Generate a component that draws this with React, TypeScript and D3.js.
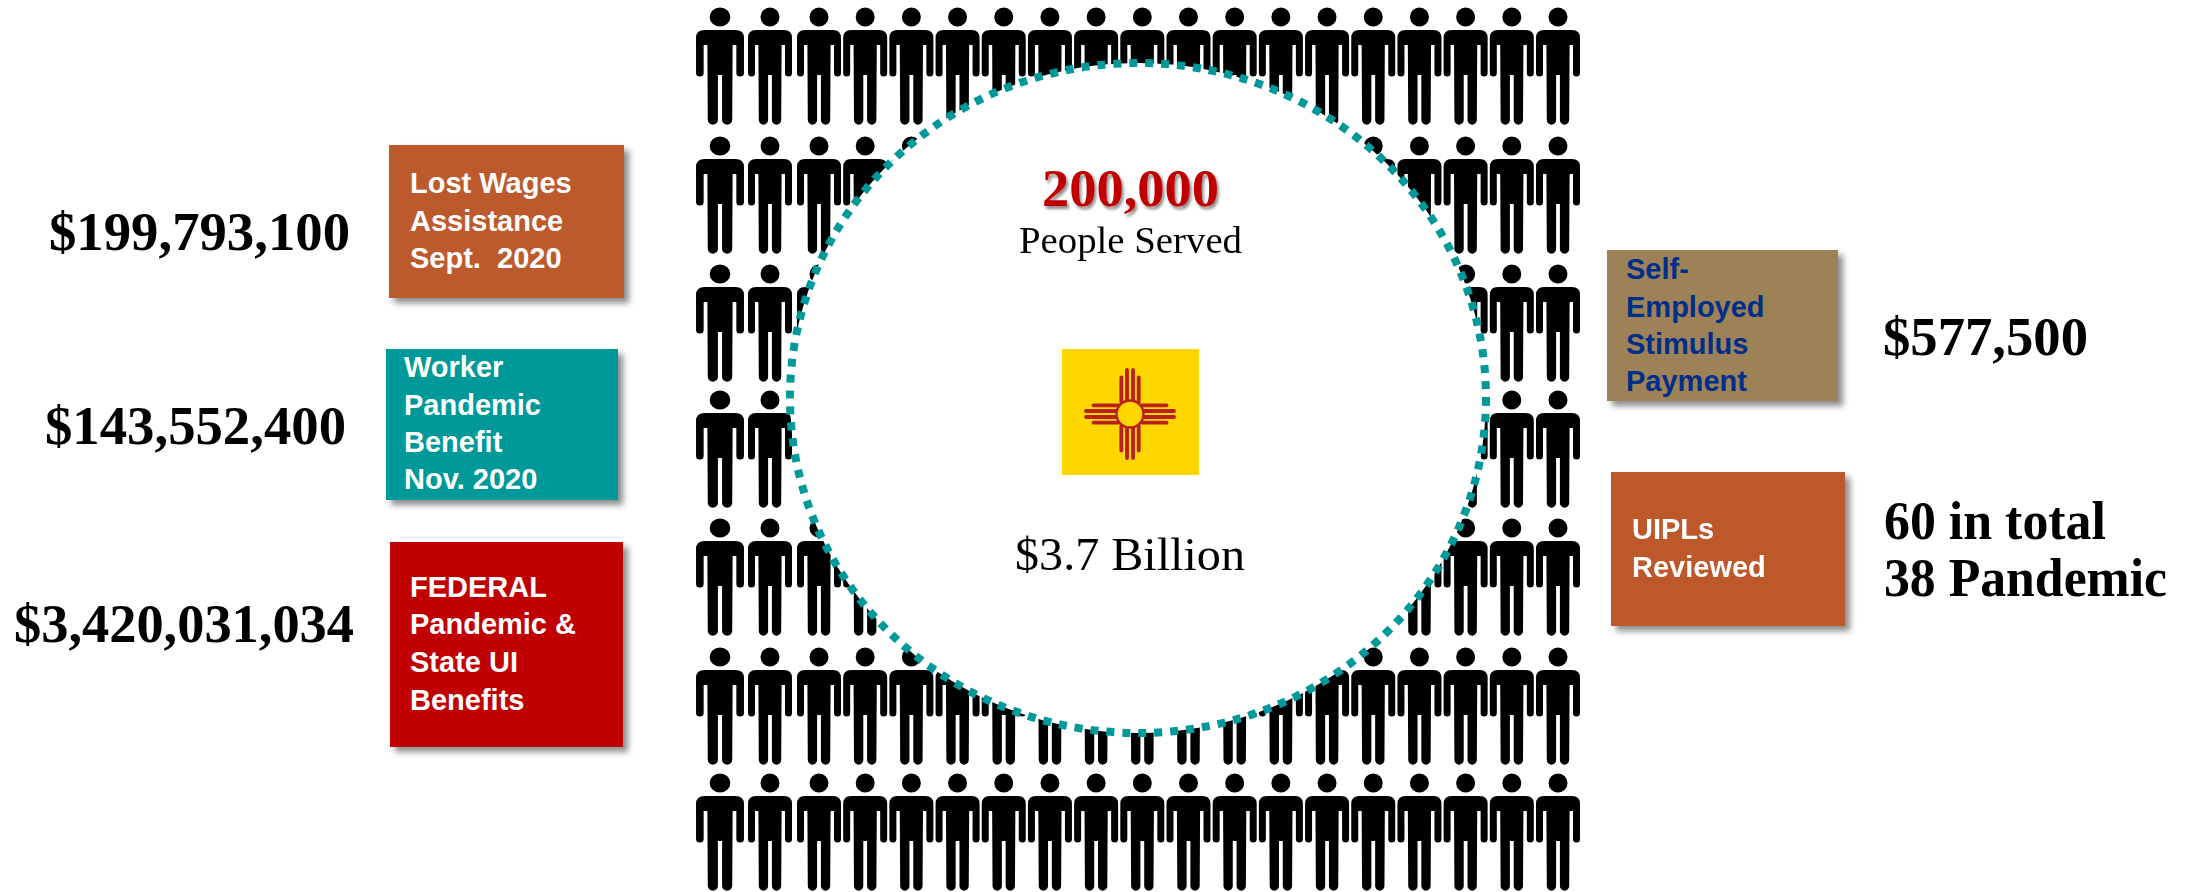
import React from "react";
import * as d3 from "d3";

// Program totals and their labels
const leftLabels = [
  ["Lost Wages", "Assistance", "Sept.  2020"],
  ["Worker", "Pandemic", "Benefit", "Nov. 2020"],
  ["FEDERAL", "Pandemic &", "State UI", "Benefits"],
];
const leftValues = ["$199,793,100", "$143,552,400", "$3,420,031,034"];
const rightLabels = [
  ["Self-", "Employed", "Stimulus", "Payment"],
  ["UIPLs", "Reviewed"],
];
const rightValues = [["$577,500"], ["60 in total", "38 Pandemic"]];
const headline = "200,000";
const headlineCaption = "People Served";
const totalAmount = "$3.7 Billion";

const columnIndex = d3.range(19);
const rowIndex = d3.range(7);

const WIDTH = 2185;
const HEIGHT = 892;

// Pictogram grid: the first columns and the rows sit slightly unevenly
const xCol = d3.scaleLinear().domain([0, 1, 2, 18]).range([720, 770, 819, 1558]);
const yRow = d3.scaleLinear().domain(rowIndex).range([17, 146, 274, 400, 528, 657, 783]);

function personPath(): string {
  const W = 22, armIn = 15, torso = 11.6, top = 13, armEnd = 56, pit = 28, crotch = 58, foot = 103, legOut = 11.2, legIn = 1.9, r = 9.5;
  const p = d3.path();
  p.moveTo(r, 0);
  p.arc(0, 0, r, 0, Math.PI * 2);
  p.closePath();
  p.moveTo(-W + 8, top);
  p.lineTo(W - 8, top);
  p.quadraticCurveTo(W, top, W, top + 8);
  p.lineTo(W, armEnd);
  p.arc((W + armIn) / 2, armEnd, (W - armIn) / 2, 0, Math.PI);
  p.lineTo(armIn, pit);
  p.lineTo(torso, pit);
  p.lineTo(legOut, foot);
  p.arc((legOut + legIn) / 2, foot, (legOut - legIn) / 2, 0, Math.PI);
  p.lineTo(legIn, crotch);
  p.lineTo(-legIn, crotch);
  p.lineTo(-legIn, foot);
  p.arc(-(legOut + legIn) / 2, foot, (legOut - legIn) / 2, 0, Math.PI);
  p.lineTo(-torso, pit);
  p.lineTo(-armIn, pit);
  p.lineTo(-armIn, armEnd);
  p.arc(-(W + armIn) / 2, armEnd, (W - armIn) / 2, 0, Math.PI);
  p.lineTo(-W, top + 8);
  p.quadraticCurveTo(-W, top, -W + 8, top);
  p.closePath();
  return p.toString();
}

const SERIF = "'Liberation Serif', serif";
const SANS = "'Liberation Sans', Arial, sans-serif";

type Box = { x: number; y: number; w: number; h: number; fill: string; ink: string; tx: number; lines: number[] };

const leftBoxes: Box[] = [
  { x: 389, y: 145, w: 235, h: 153, fill: "#BC5A2D", ink: "#fff", tx: 410, lines: [193, 231, 268] },
  { x: 386, y: 349, w: 232, h: 151, fill: "#009999", ink: "#fff", tx: 404, lines: [377, 415, 452, 489] },
  { x: 390, y: 542, w: 233, h: 205, fill: "#C00000", ink: "#fff", tx: 410, lines: [597, 634, 672, 710] },
];
const rightBoxes: Box[] = [
  { x: 1607, y: 250, w: 231, h: 151, fill: "#9C8256", ink: "#002E8A", tx: 1626, lines: [279, 317, 354, 391] },
  { x: 1611, y: 472, w: 234, h: 154, fill: "#BC582C", ink: "#fff", tx: 1632, lines: [539, 577] },
];

const leftValuePos = [
  { x: 49, w: 301, y: 250 },
  { x: 45, w: 301, y: 444 },
  { x: 14, w: 340, y: 642 },
];
const rightValuePos = [
  [{ x: 1883, w: 205, y: 355 }],
  [{ x: 1884, w: 222, y: 539 }, { x: 1884, w: 283, y: 596 }],
];

const ValueText = ({ x, y, w, text }: { x: number; y: number; w: number; text: string }) => (
  <text x={x} y={y} fontFamily={SERIF} fontWeight="bold" fontSize={54} fill="#000" textLength={w} lengthAdjust="spacingAndGlyphs">
    {text}
  </text>
);

const LabelBox = ({ b, lines }: { b: Box; lines: string[] }) => (
  <g>
    <rect x={b.x} y={b.y} width={b.w} height={b.h} fill={b.fill} filter="url(#boxShadow)" />
    {lines.map((l, i) => (
      <text key={i} x={b.tx} y={b.lines[i]} fontFamily={SANS} fontWeight="bold" fontSize={29} fill={b.ink} xmlSpace="preserve">
        {l}
      </text>
    ))}
  </g>
);

// The Zia sun symbol on a yellow field
const Flag = () => {
  const cx = 1130, cy = 414, red = "#B9201F";
  const offsets = [-8.7, -3, 3, 8.7];
  const reach = (o: number) => (Math.abs(o) < 5 ? 44 : 36.5);
  return (
    <g>
      <rect x={1062} y={349} width={137} height={126} fill="#FFD700" />
      <g stroke={red} strokeWidth={3.8} strokeLinecap="round">
        {offsets.map((o) =>
          [-1, 1].map((s) => (
            <g key={`${o}${s}`}>
              <line x1={cx + s * 12} x2={cx + s * reach(o)} y1={cy + o} y2={cy + o} />
              <line y1={cy + s * 12} y2={cy + s * reach(o)} x1={cx + o} x2={cx + o} />
            </g>
          ))
        )}
      </g>
      <circle cx={cx} cy={cy} r={13.5} fill="#FFD700" stroke={red} strokeWidth={2.4} />
    </g>
  );
};

export default function App() {
  const person = personPath();
  return (
    <svg
      width={WIDTH}
      height={HEIGHT}
      viewBox={`0 0 ${WIDTH} ${HEIGHT}`}
      style={{ position: "absolute", left: 0, top: 0, display: "block", background: "#fff" }}
    >
      <defs>
        <filter id="boxShadow" x="-10%" y="-10%" width="125%" height="125%">
          <feDropShadow dx={5} dy={5} stdDeviation={3} floodColor="#000" floodOpacity={0.45} />
        </filter>
        <filter id="textShadow" x="-10%" y="-20%" width="125%" height="150%">
          <feDropShadow dx={2} dy={3} stdDeviation={1.5} floodColor="#000" floodOpacity={0.45} />
        </filter>
        <filter id="soft" x="-5%" y="-5%" width="110%" height="110%">
          <feGaussianBlur stdDeviation={0.7} />
        </filter>
      </defs>

      <g fill="#000" filter="url(#soft)">
        {rowIndex.map((r) =>
          columnIndex.map((c) => (
            <path
              key={`${r}-${c}`}
              d={person}
              transform={`translate(${xCol(c)},${yRow(r)}) scale(${c === 0 ? 1.09 : 1},1)`}
            />
          ))
        )}
      </g>

      <ellipse cx={1138} cy={398} rx={348} ry={335} fill="#fff" stroke="#009999" strokeWidth={8} strokeDasharray="8 8" />

      <text x={1042} y={206} fontFamily={SERIF} fontWeight="bold" fontSize={53} fill="#C00000" textLength={177} lengthAdjust="spacingAndGlyphs" filter="url(#textShadow)">
        {headline}
      </text>
      <text x={1019} y={253} fontFamily={SERIF} fontSize={38} fill="#000" textLength={223} lengthAdjust="spacingAndGlyphs">
        {headlineCaption}
      </text>
      <Flag />
      <text x={1015} y={570} fontFamily={SERIF} fontSize={47} fill="#000" textLength={230} lengthAdjust="spacingAndGlyphs">
        {totalAmount}
      </text>

      {leftBoxes.map((b, i) => (
        <LabelBox key={i} b={b} lines={leftLabels[i]} />
      ))}
      {rightBoxes.map((b, i) => (
        <LabelBox key={i} b={b} lines={rightLabels[i]} />
      ))}
      {leftValues.map((v, i) => (
        <ValueText key={i} text={v} {...leftValuePos[i]} />
      ))}
      {rightValues.map((vs, i) =>
        vs.map((v, j) => <ValueText key={`${i}${j}`} text={v} {...rightValuePos[i][j]} />)
      )}
    </svg>
  );
}
